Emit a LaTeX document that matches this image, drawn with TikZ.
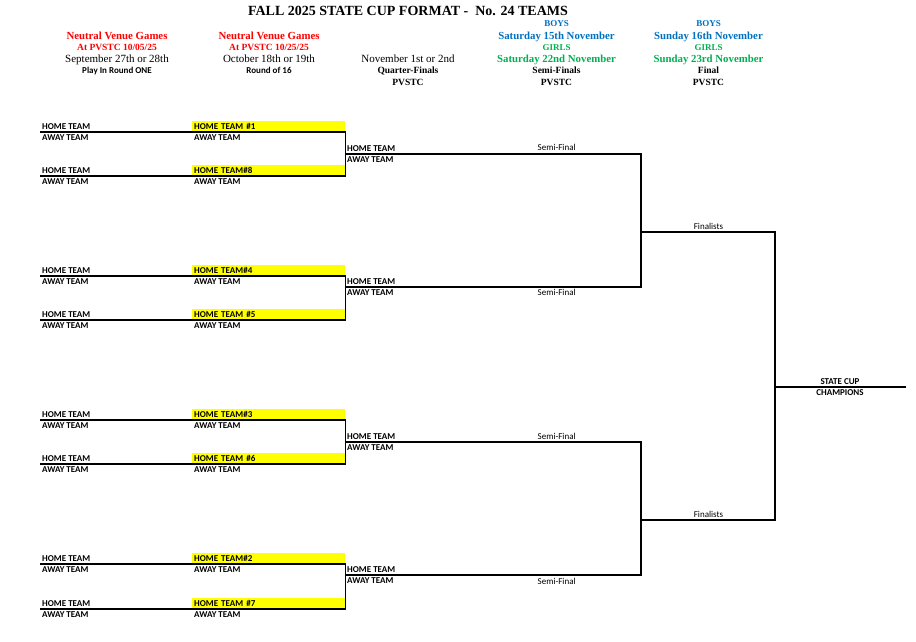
\documentclass[tikz,border=0pt]{standalone}
\usepackage{fontspec}
\setmainfont{Liberation Serif}
\newfontfamily\calibri{Carlito}
\usepackage{tikz}
\usetikzlibrary{positioning}
\definecolor{venuered}{RGB}{255,0,0}
\definecolor{boysblue}{RGB}{0,112,192}
\definecolor{girlsgreen}{RGB}{0,176,80}
\definecolor{seedyellow}{RGB}{255,255,0}

\begin{document}
\begin{tikzpicture}[x=1pt, y=-1pt,
  head/.style={anchor=base, inner sep=0pt, font=\fontsize{11}{13}\selectfont},
  headb/.style={head, font=\fontsize{10.8}{13}\selectfont\bfseries},
  venue/.style={head, text=venuered, font=\fontsize{9.5}{11}\selectfont\bfseries},
  day/.style={head, font=\fontsize{9}{11}\selectfont\bfseries},
  round/.style={head, font=\fontsize{9}{11}\calibri\bfseries},
  team/.style={anchor=base west, inner sep=0pt, font=\fontsize{9}{11}\calibri\bfseries},
  seed/.style={anchor=south west, fill=seedyellow, minimum height=11pt, inner ysep=0pt,
    inner xsep=2pt, text width=149pt, text height=6pt, text depth=0pt,
    font=\fontsize{9}{11}\calibri\bfseries},
  tag/.style={anchor=base, inner sep=0pt, font=\fontsize{9}{11}\calibri},
  bracket/.style={line width=1.1pt}]
\useasboundingbox (0,0) rectangle (916,641);

% header
\node [head, font=\fontsize{14}{16}\selectfont\bfseries] (title) at (408,15.5) {FALL 2025 STATE CUP FORMAT -\ \ No. 24 TEAMS};
\node [headb, text=venuered] (v1) at (117,39) {Neutral Venue Games};
\node [venue] (v1d) at (117,50.5) {At PVSTC 10/05/25};
\node [head] (d1) at (117,62.3) {September 27th or 28th};
\node [round] (n1) at (117,73.3) {Play In Round ONE};
\node [headb, text=venuered] (v2) at (269,39) {Neutral Venue Games};
\node [venue] (v2d) at (269,50.5) {At PVSTC 10/25/25};
\node [head] (d2) at (269,62.3) {October 18th or 19th};
\node [round] (n2) at (269,73.3) {Round of 16};
\node [head] (d3) at (408,62.3) {November 1st or 2nd};
\node [day, font=\fontsize{9.5}{11}\selectfont\bfseries] (n3) at (408,73.5) {Quarter-Finals};
\node [day, font=\fontsize{9.5}{11}\selectfont\bfseries] (p3) at (408,85) {PVSTC};
\node [day, text=boysblue] (b4) at (556.5,26.7) {BOYS};
\node [headb, text=boysblue] (bd4) at (556.5,39) {Saturday 15th November};
\node [day, text=girlsgreen] (g4) at (556.5,50.5) {GIRLS};
\node [headb, text=girlsgreen] (gd4) at (556.5,62.3) {Saturday 22nd November};
\node [day, font=\fontsize{9.5}{11}\selectfont\bfseries] (n4) at (556.5,73.5) {Semi-Finals};
\node [day, font=\fontsize{9.5}{11}\selectfont\bfseries] (p4) at (556.5,85) {PVSTC};
\node [day, text=boysblue] (b5) at (708.5,26.7) {BOYS};
\node [headb, text=boysblue] (bd5) at (708.5,39) {Sunday 16th November};
\node [day, text=girlsgreen] (g5) at (708.5,50.5) {GIRLS};
\node [headb, text=girlsgreen] (gd5) at (708.5,62.3) {Sunday 23rd November};
\node [day, font=\fontsize{9.5}{11}\selectfont\bfseries] (n5) at (708.5,73.5) {Final};
\node [day, font=\fontsize{9.5}{11}\selectfont\bfseries] (p5) at (708.5,85) {PVSTC};

% play in round one
\node [team] (ph1) at (42,129) {HOME TEAM};
\node [team] (pa1) at (42,140.5) {AWAY TEAM};
\node [team] (ph2) at (42,173) {HOME TEAM};
\node [team] (pa2) at (42,184.5) {AWAY TEAM};
\node [team] (ph3) at (42,273) {HOME TEAM};
\node [team] (pa3) at (42,284.5) {AWAY TEAM};
\node [team] (ph4) at (42,317) {HOME TEAM};
\node [team] (pa4) at (42,328.5) {AWAY TEAM};
\node [team] (ph5) at (42,417) {HOME TEAM};
\node [team] (pa5) at (42,428.5) {AWAY TEAM};
\node [team] (ph6) at (42,461) {HOME TEAM};
\node [team] (pa6) at (42,472.5) {AWAY TEAM};
\node [team] (ph7) at (42,561) {HOME TEAM};
\node [team] (pa7) at (42,572.5) {AWAY TEAM};
\node [team] (ph8) at (42,606) {HOME TEAM};
\node [team] (pa8) at (42,617.5) {AWAY TEAM};

% round of 16
\node [seed] (rs1) at (192,132) {HOME TEAM \#1};
\node [team] (ra1) at (194,140.5) {AWAY TEAM};
\node [seed] (rs2) at (192,176) {HOME TEAM\#8};
\node [team] (ra2) at (194,184.5) {AWAY TEAM};
\node [seed] (rs3) at (192,276) {HOME TEAM\#4};
\node [team] (ra3) at (194,284.5) {AWAY TEAM};
\node [seed] (rs4) at (192,320) {HOME TEAM \#5};
\node [team] (ra4) at (194,328.5) {AWAY TEAM};
\node [seed] (rs5) at (192,420) {HOME TEAM\#3};
\node [team] (ra5) at (194,428.5) {AWAY TEAM};
\node [seed] (rs6) at (192,464) {HOME TEAM \#6};
\node [team] (ra6) at (194,472.5) {AWAY TEAM};
\node [seed] (rs7) at (192,564) {HOME TEAM\#2};
\node [team] (ra7) at (194,572.5) {AWAY TEAM};
\node [seed] (rs8) at (192,609) {HOME TEAM \#7};
\node [team] (ra8) at (194,617.5) {AWAY TEAM};

% quarter-finals
\node [team] (qh1) at (347,151) {HOME TEAM};
\node [team] (qa1) at (347,162.5) {AWAY TEAM};
\node [team] (qh2) at (347,284) {HOME TEAM};
\node [team] (qa2) at (347,295.5) {AWAY TEAM};
\node [team] (qh3) at (347,439) {HOME TEAM};
\node [team] (qa3) at (347,450.5) {AWAY TEAM};
\node [team] (qh4) at (347,572) {HOME TEAM};
\node [team] (qa4) at (347,583.5) {AWAY TEAM};

% semi-finals, final
\node [tag] (sf1) at (556.7,150.7) {Semi-Final};
\node [tag] (sf2) at (556.7,295) {Semi-Final};
\node [tag] (sf3) at (556.7,439) {Semi-Final};
\node [tag] (sf4) at (556.7,584) {Semi-Final};
\node [tag] (fn1) at (708.5,229) {Finalists};
\node [tag] (fn2) at (708.5,517.3) {Finalists};
\node [tag, font=\fontsize{9}{11}\calibri\bfseries] (champ) at (840,384) {STATE CUP};
\node [tag, font=\fontsize{9}{11}\calibri\bfseries] (champb) at (840,395.7) {CHAMPIONS};

% bracket joints
\coordinate (l1) at (40,132);
\coordinate (l2) at (40,176);
\coordinate (l3) at (40,276);
\coordinate (l4) at (40,320);
\coordinate (l5) at (40,420);
\coordinate (l6) at (40,464);
\coordinate (l7) at (40,564);
\coordinate (l8) at (40,609);
\coordinate (q1) at (345,154);
\coordinate (q2) at (345,287);
\coordinate (q3) at (345,442);
\coordinate (q4) at (345,575);
\coordinate (s1) at (641,154);
\coordinate (s2) at (641,287);
\coordinate (s3) at (641,442);
\coordinate (s4) at (641,575);
\coordinate (j1) at (641,232);
\coordinate (j2) at (641,520);
\coordinate (f1) at (775,232);
\coordinate (f2) at (775,520);
\coordinate (c1) at (775,387);
\coordinate (c2) at (906,387);

\draw [bracket] (l1) -- (rs1.south east) -- (rs2.south east) -- (l2);
\draw [bracket] (l3) -- (rs3.south east) -- (rs4.south east) -- (l4);
\draw [bracket] (l5) -- (rs5.south east) -- (rs6.south east) -- (l6);
\draw [bracket] (l7) -- (rs7.south east) -- (rs8.south east) -- (l8);
\draw [bracket] (q1) -- (s1) -- (s2) -- (q2);
\draw [bracket] (q3) -- (s3) -- (s4) -- (q4);
\draw [bracket] (j1) -- (f1) -- (f2) -- (j2);
\draw [bracket] (c1) -- (c2);
\end{tikzpicture}
\end{document}
